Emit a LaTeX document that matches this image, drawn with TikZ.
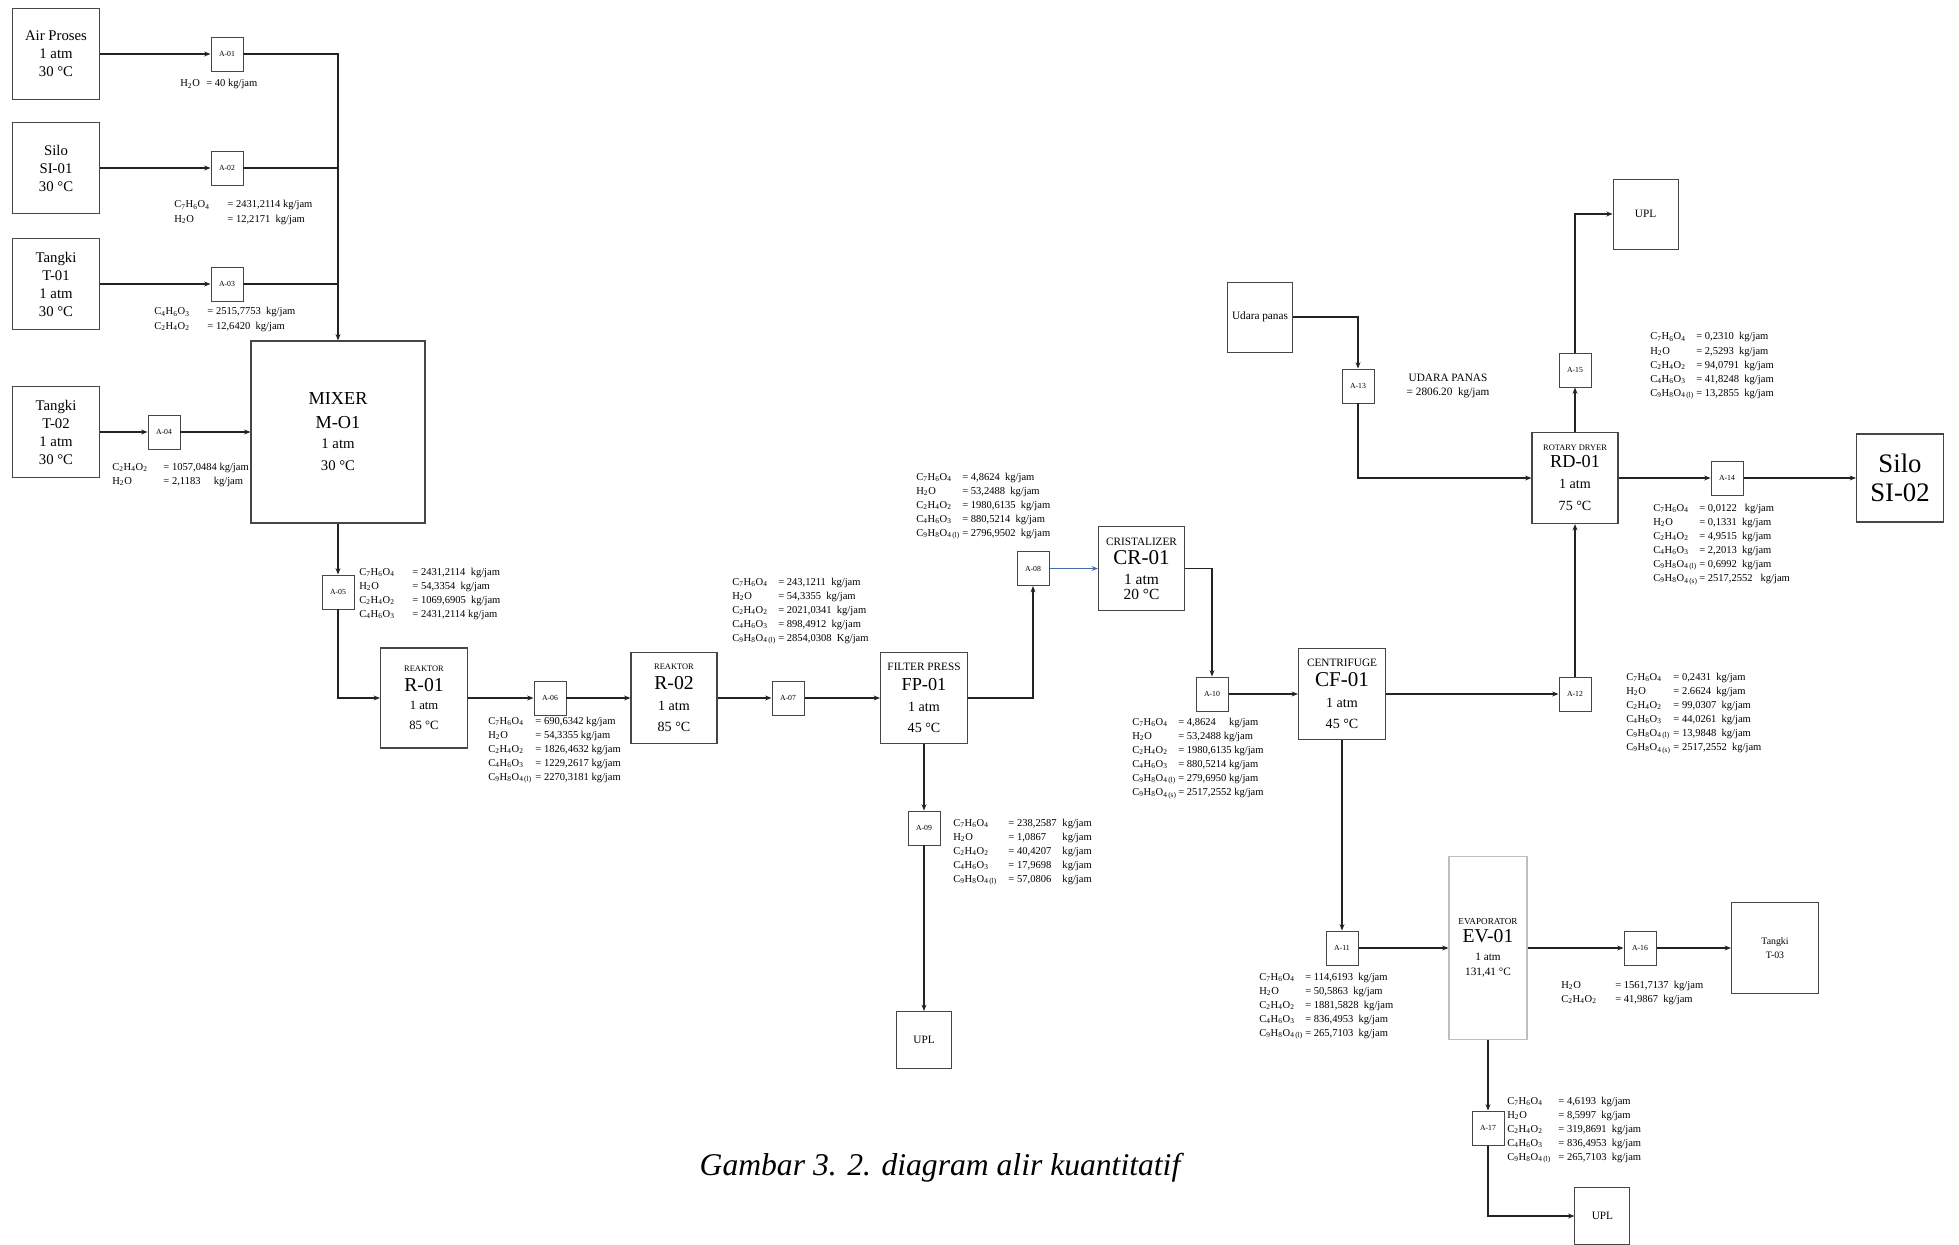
\documentclass[tikz,border=0pt]{standalone}
\usepackage{fontspec}
\setmainfont{Liberation Serif}
\usepackage{tikz}
\usetikzlibrary{arrows.meta,positioning}
\definecolor{lineDark}{RGB}{35,35,35}
\definecolor{lineGrey}{RGB}{70,70,70}
\definecolor{flowBlue}{RGB}{70,110,170}
\newcommand{\salic}{C\textsubscript{7}H\textsubscript{6}O\textsubscript{4}}
\newcommand{\water}{H\textsubscript{2}O}
\newcommand{\acet}{C\textsubscript{2}H\textsubscript{4}O\textsubscript{2}}
\newcommand{\anhyd}{C\textsubscript{4}H\textsubscript{6}O\textsubscript{3}}
\newcommand{\aspL}{C\textsubscript{9}H\textsubscript{8}O\textsubscript{4\,(l)}}
\newcommand{\aspS}{C\textsubscript{9}H\textsubscript{8}O\textsubscript{4\,(s)}}
\newcommand{\fsz}[2]{{\fontsize{#1}{#1}\selectfont #2}}
\newcommand{\kgtab}[2]{\begin{tabular}[t]{@{}p{#1}@{}l@{}}#2\end{tabular}}

\begin{document}
\begin{tikzpicture}[
  feed/.style={rectangle,draw=lineGrey,line width=0.8pt,minimum width=2.175cm,
               minimum height=2.275cm,align=center,inner sep=0pt,
               font=\fontsize{10.5}{12.8}\selectfont},
  unit/.style={rectangle,draw=lineGrey,line width=0.8pt,minimum width=2.175cm,
               minimum height=2.275cm,align=center,inner sep=0pt},
  valve/.style={rectangle,draw=lineGrey,line width=0.7pt,minimum width=0.8cm,
                minimum height=0.85cm,inner sep=0pt,font=\fontsize{5.5}{6}\selectfont},
  sink/.style={rectangle,draw=lineGrey,line width=0.7pt,minimum width=1.375cm,
               minimum height=1.425cm,align=center,inner sep=0pt,
               font=\fontsize{8}{10}\selectfont},
  tbl/.style={anchor=base west,inner sep=0pt,font=\fontsize{7.5}{10}\selectfont},
  arr/.style={-{Stealth[length=4.5pt,width=3.5pt]},line width=0.8pt,draw=lineDark},
  pipe/.style={line width=0.8pt,draw=lineDark}
]
  \useasboundingbox (0,0) rectangle (48.975,-31.125);

  % feed tanks
  \node[feed] (air)   at (1.4,-1.35) {Air Proses\\1 atm\\30 °C};
  \node[feed] (silo1) at (1.4,-4.2)  {Silo\\SI-01\\30 °C};
  \node[feed] (tk1)   at (1.4,-7.1)  {Tangki\\T-01\\1 atm\\30 °C};
  \node[feed] (tk2)   at (1.4,-10.8) {Tangki\\T-02\\1 atm\\30 °C};

  \node[valve] (a1) at (5.675,-1.35) {A-01};
  \node[valve] (a2) at (5.675,-4.2)  {A-02};
  \node[valve] (a3) at (5.675,-7.1)  {A-03};
  \node[valve] (a4) at (4.1,-10.8)   {A-04};

  \node[unit,minimum width=4.35cm,minimum height=4.55cm,font=\fontsize{13}{17}\selectfont]
    (mix) at (8.45,-10.8) {MIXER\\M-O1\\[-3pt]\fsz{10.5}{1 atm}\\[-1pt]\fsz{10.5}{30 °C}};

  % reaktor line
  \node[valve] (a5) at (8.45,-14.8) {A-05};
  \node[unit,minimum height=2.5cm,font=\fontsize{14}{15}\selectfont]
    (r1) at (10.6,-17.45) {\fsz{6}{REAKTOR}\\[-1pt]R-01\\[-2pt]\fsz{9}{1 atm}\\[-1pt]\fsz{9}{85 °C}};
  \node[valve] (a6) at (13.75,-17.45) {A-06};
  \node[unit,minimum width=2.15cm,font=\fontsize{14}{15}\selectfont]
    (r2) at (16.85,-17.45) {\fsz{6}{REAKTOR}\\[-1pt]R-02\\\fsz{10}{1 atm}\\\fsz{10}{85 °C}};
  \node[valve] (a7) at (19.7,-17.45) {A-07};
  \node[unit,font=\fontsize{13}{15}\selectfont]
    (fp1) at (23.1,-17.45) {\fsz{8}{FILTER PRESS}\\[-1pt]FP-01\\\fsz{10}{1 atm}\\\fsz{10}{45 °C}};
  \node[valve] (a9) at (23.1,-20.7) {A-09};
  \node[sink]  (upl1) at (23.1,-26.0) {UPL};

  \node[valve] (a8) at (25.825,-14.2125) {A-08};
  \node[unit,minimum width=2.15cm,minimum height=2.1cm,font=\fontsize{15}{14}\selectfont]
    (cr1) at (28.5375,-14.2125) {\fsz{8}{CRISTALIZER}\\CR-01\\\fsz{11}{1 atm}\\[-3.5pt]\fsz{11}{20 °C}};
  \node[valve] (a10) at (30.3,-17.35) {A-10};
  \node[unit,font=\fontsize{15}{15}\selectfont]
    (cf1) at (33.55,-17.35) {\fsz{8}{CENTRIFUGE}\\[-1pt]CF-01\\\fsz{10}{1 atm}\\\fsz{10}{45 °C}};

  % evaporator branch
  \node[valve] (a11) at (33.55,-23.7) {A-11};
  \node[unit,draw=black!25,minimum width=1.95cm,minimum height=4.575cm,font=\fontsize{14}{12.5}\selectfont]
    (ev1) at (37.2,-23.7) {\fsz{6.5}{EVAPORATOR}\\EV-01\\\fsz{8}{1 atm}\\[-1.5pt]\fsz{8}{131,41 °C}};
  \node[valve] (a16) at (41.0,-23.7) {A-16};
  \node[unit,font=\fontsize{7}{10}\selectfont] (tk3) at (44.375,-23.7) {Tangki\\T-03};
  \node[valve] (a17) at (37.2,-28.2) {A-17};
  \node[sink]  (upl3) at (40.06,-30.4) {UPL};

  % dryer branch
  \node[valve] (a12) at (39.375,-17.35) {A-12};
  \node[unit,minimum width=2.15cm,font=\fontsize{13}{15}\selectfont]
    (rd1) at (39.375,-11.95) {\fsz{6}{ROTARY DRYER}\\[-3pt]RD-01\\\fsz{10}{1 atm}\\[1pt]\fsz{10}{75 °C}};
  \node[valve] (a15) at (39.375,-9.25) {A-15};
  \node[sink,minimum width=1.625cm,minimum height=1.75cm] (upl2) at (41.14,-5.35) {UPL};
  \node[sink,minimum width=1.625cm,minimum height=1.75cm] (udara) at (31.5,-7.925) {Udara panas};
  \node[valve] (a13) at (33.95,-9.65) {A-13};
  \node[valve] (a14) at (43.175,-11.95) {A-14};
  \node[unit,minimum height=2.2cm,font=\fontsize{19}{21}\selectfont] (silo2) at (47.5,-11.95) {Silo\\SI-02};

  % connectors
  \draw[arr] (air) -- (a1);
  \draw[arr] (silo1) -- (a2);
  \draw[arr] (tk1) -- (a3);
  \draw[arr] (tk2) -- (a4);
  \draw[arr] (a1) -| (mix);
  \draw[pipe] (a2) -- (a2 -| mix);
  \draw[pipe] (a3) -- (a3 -| mix);
  \draw[arr] (a4) -- (mix);
  \draw[arr] (mix) -- (a5);
  \draw[arr] (a5) |- (r1);
  \draw[arr] (r1) -- (a6);
  \draw[arr] (a6) -- (r2);
  \draw[arr] (r2) -- (a7);
  \draw[arr] (a7) -- (fp1);
  \draw[arr] (fp1) -- (a9);
  \draw[arr] (a9) -- (upl1);
  \draw[arr] (fp1) -| (a8);
  \draw[arr,draw=flowBlue,line width=0.5pt] (a8) -- (cr1);
  \draw[arr] (cr1) -| (a10);
  \draw[arr] (a10) -- (cf1);
  \draw[arr] (cf1) -- (a11);
  \draw[arr] (a11) -- (ev1);
  \draw[arr] (ev1) -- (a16);
  \draw[arr] (a16) -- (tk3);
  \draw[arr] (ev1) -- (a17);
  \draw[arr] (a17) |- (upl3);
  \draw[arr] (cf1) -- (a12);
  \draw[arr] (a12) -- (rd1);
  \draw[arr] (rd1) -- (a15);
  \draw[arr] (a15) |- (upl2);
  \draw[arr] (udara) -| (a13);
  \draw[arr] (a13) |- (rd1);
  \draw[arr] (rd1) -- (a14);
  \draw[arr] (a14) -- (silo2);

  % stream compositions
  \node[tbl] (s1) at (4.5,-2.175) {\kgtab{0.65cm}{\water & = 40 kg/jam}};
  \node[tbl] (s2) at (4.35,-5.2) {\kgtab{1.33cm}{\salic & = 2431,2114 kg/jam\\
    \water & = 12,2171 \ kg/jam}};
  \node[tbl] (s3) at (3.85,-7.875) {\kgtab{1.33cm}{\anhyd & = 2515,7753 \ kg/jam\\
    \acet & = 12,6420 \ kg/jam}};
  \node[tbl] (s4) at (2.8,-11.75) {\kgtab{1.28cm}{\acet & = 1057,0484 kg/jam\\
    \water & = 2,1183 \quad kg/jam}};
  \node[tbl] (s5) at (8.975,-14.375) {\kgtab{1.33cm}{\salic & = 2431,2114 \ kg/jam\\
    \water & = 54,3354 \ kg/jam\\ \acet & = 1069,6905 \ kg/jam\\
    \anhyd & = 2431,2114 kg/jam}};
  \node[tbl] (s6) at (12.2,-18.1) {\kgtab{1.18cm}{\salic & = 690,6342 kg/jam\\
    \water & = 54,3355 kg/jam\\ \acet & = 1826,4632 kg/jam\\
    \anhyd & = 1229,2617 kg/jam\\ \aspL & = 2270,3181 kg/jam}};
  \node[tbl] (s7) at (18.3,-14.625) {\kgtab{1.15cm}{\salic & = 243,1211 \ kg/jam\\
    \water & = 54,3355 \ kg/jam\\ \acet & = 2021,0341 \ kg/jam\\
    \anhyd & = 898,4912 \ kg/jam\\ \aspL & = 2854,0308 \ Kg/jam}};
  \node[tbl] (s8) at (22.9,-12.0) {\kgtab{1.15cm}{\salic & = 4,8624 \ kg/jam\\
    \water & = 53,2488 \ kg/jam\\ \acet & = 1980,6135 \ kg/jam\\
    \anhyd & = 880,5214 \ kg/jam\\ \aspL & = 2796,9502 \ kg/jam}};
  \node[tbl] (s9) at (23.825,-20.65) {\begin{tabular}[t]{@{}p{1.38cm}@{}p{1.35cm}@{}l@{}}
    \salic & = 238,2587 & kg/jam\\ \water & = 1,0867 & kg/jam\\
    \acet & = 40,4207 & kg/jam\\ \anhyd & = 17,9698 & kg/jam\\
    \aspL & = 57,0806 & kg/jam\end{tabular}};
  \node[tbl] (s10) at (28.3,-18.125) {\kgtab{1.15cm}{\salic & = 4,8624 \quad kg/jam\\
    \water & = 53,2488 kg/jam\\ \acet & = 1980,6135 kg/jam\\
    \anhyd & = 880,5214 kg/jam\\ \aspL & = 279,6950 kg/jam\\
    \aspS & = 2517,2552 kg/jam}};
  \node[tbl] (s11) at (31.475,-24.5) {\kgtab{1.15cm}{\salic & = 114,6193 \ kg/jam\\
    \water & = 50,5863 \ kg/jam\\ \acet & = 1881,5828 \ kg/jam\\
    \anhyd & = 836,4953 \ kg/jam\\ \aspL & = 265,7103 \ kg/jam}};
  \node[tbl] (s12) at (40.65,-17.0) {\kgtab{1.18cm}{\salic & = 0,2431 \ kg/jam\\
    \water & = 2.6624 \ kg/jam\\ \acet & = 99,0307 \ kg/jam\\
    \anhyd & = 44,0261 \ kg/jam\\ \aspL & = 13,9848 \ kg/jam\\
    \aspS & = 2517,2552 \ kg/jam}};
  \node[tbl] (s14) at (41.325,-12.775) {\kgtab{1.15cm}{\salic & = 0,0122 \ \ kg/jam\\
    \water & = 0,1331 \ kg/jam\\ \acet & = 4,9515 \ kg/jam\\
    \anhyd & = 2,2013 \ kg/jam\\ \aspL & = 0,6992 \ kg/jam\\
    \aspS & = 2517,2552 \ \ kg/jam}};
  \node[tbl] (s15) at (41.25,-8.5) {\kgtab{1.15cm}{\salic & = 0,2310 \ kg/jam\\
    \water & = 2,5293 \ kg/jam\\ \acet & = 94,0791 \ kg/jam\\
    \anhyd & = 41,8248 \ kg/jam\\ \aspL & = 13,2855 \ kg/jam}};
  \node[tbl] (s16) at (39.025,-24.7) {\kgtab{1.35cm}{\water & = 1561,7137 \ kg/jam\\
    \acet & = 41,9867 \ kg/jam}};
  \node[tbl] (s17) at (37.675,-27.6) {\kgtab{1.28cm}{\salic & = 4,6193 \ kg/jam\\
    \water & = 8,5997 \ kg/jam\\ \acet & = 319,8691 \ kg/jam\\
    \anhyd & = 836,4953 \ kg/jam\\ \aspL & = 265,7103 \ kg/jam}};
  \node[font=\fontsize{8}{10}\selectfont,align=center] (hot) at (36.2,-9.65)
    {UDARA PANAS\\= 2806.20 \ kg/jam};

  \node[font=\fontsize{22.5}{26}\selectfont\itshape] (cap) at (23.5,-29.2)
    {Gambar 3. 2. diagram alir kuantitatif};
\end{tikzpicture}
\end{document}
